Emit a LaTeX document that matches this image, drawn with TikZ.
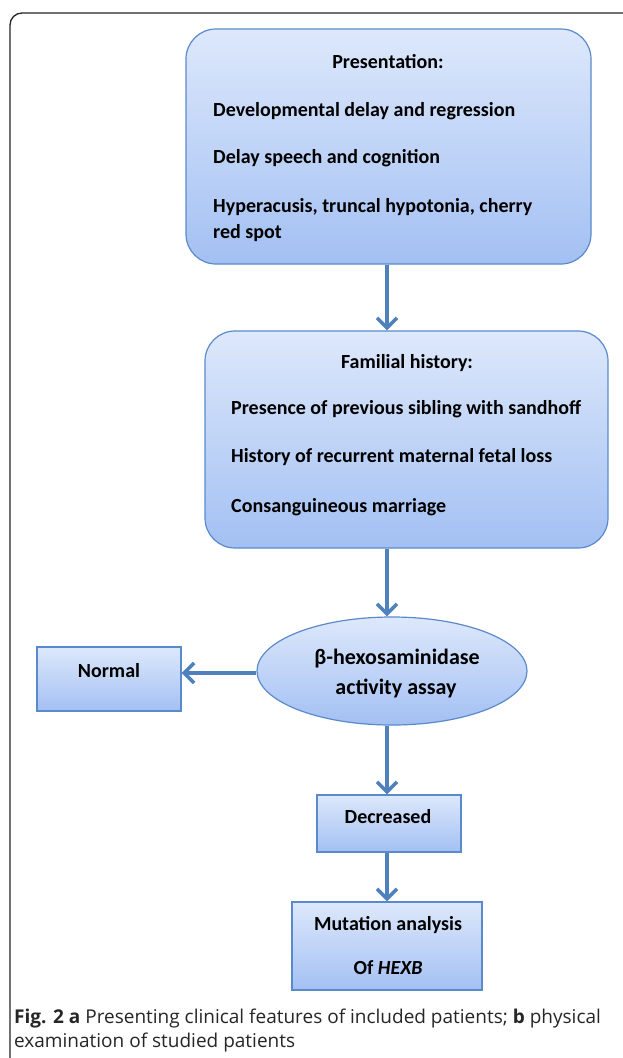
\documentclass[tikz,border=0pt]{standalone}
\usepackage{fontspec}
\setmainfont{Carlito}
\newfontfamily\capfont{Open Sans}
\usetikzlibrary{arrows.meta,shapes.geometric,shadings}
\definecolor{boxtop}{HTML}{DDE8FB}
\definecolor{boxbot}{HTML}{A3C0F3}
\definecolor{boxedge}{HTML}{5A8ACB}
\definecolor{arrowc}{HTML}{4F81BD}
\tikzset{
  panel/.style={draw=boxedge, line width=1.2pt, top color=boxtop, bottom color=boxbot, inner sep=0pt},
  roundbox/.style={panel, rounded corners=30pt},
  sqbox/.style={panel},
  txt/.style={font=\fontsize{20}{24}\selectfont\bfseries, inner sep=0pt, text=black, anchor=base},
  ltxt/.style={txt, anchor=base west},
  bigtxt/.style={font=\fontsize{22}{26}\selectfont\bfseries, inner sep=0pt, text=black, anchor=base},
  flow/.style={draw=arrowc, line width=3.5pt, -{Straight Barb[length=10pt,width=20pt]}},
  captxt/.style={font=\capfont\fontsize{19}{22}\selectfont, inner sep=0pt, anchor=base west, text=black!85}
}
\begin{document}
\begin{tikzpicture}[x=1pt,y=-1pt]
\useasboundingbox[fill=white] (0,0) rectangle (622,1058);
% frame
\draw[line width=1.3pt, black!85, rounded corners=12pt] (10,1060) -- (10,13) -- (624,13);
% boxes
\node[roundbox, minimum width=405pt, minimum height=235pt] (pres) at (388.5,146.5) {};
\node[roundbox, minimum width=403pt, minimum height=217pt] (fam) at (406.5,439.5) {};
\node[panel, ellipse, minimum width=270pt, minimum height=108pt] (assay) at (392,671) {};
\node[sqbox, minimum width=144pt, minimum height=64pt] (normal) at (109,679) {};
\node[sqbox, minimum width=144pt, minimum height=57pt] (dec) at (389,823.5) {};
\node[sqbox, minimum width=190pt, minimum height=88pt] (mut) at (387,946) {};
% texts
\node[txt] (t1) at (388,68) {Presentation:};
\node[ltxt] (t2) at (213,116) {Developmental delay and regression};
\node[ltxt] (t3) at (213,163) {Delay speech and cognition};
\node[ltxt] (t4) at (213,212) {Hyperacusis, truncal hypotonia, cherry};
\node[ltxt] (t5) at (213,238) {red spot};
\node[txt] (f1) at (407,368) {Familial history:};
\node[ltxt] (f2) at (231,414) {Presence of previous sibling with sandhoff};
\node[ltxt] (f3) at (231,462) {History of recurrent maternal fetal loss};
\node[ltxt] (f4) at (231,512) {Consanguineous marriage};
\node[bigtxt] (a1) at (397,664) {β-hexosaminidase};
\node[bigtxt] (a2) at (396,694) {activity assay};
\node[txt] (n1) at (109,677) {Normal};
\node[txt] (d1) at (388,823) {Decreased};
\node[txt] (m1) at (388,930) {Mutation analysis};
\node[txt] (m2) at (388,974) {Of \textit{HEXB}};
% connectors
\draw[flow] (pres.south -| 387,0) -- (fam.north -| 387,0);
\draw[flow] (fam.south -| 387,0) -- (assay.north -| 387,0);
\draw[flow] (assay.west |- 0,673) -- (normal.east |- 0,673);
\draw[flow] (assay.south -| 387,0) -- (dec.north -| 387,0);
\draw[flow] (dec.south -| 387,0) -- (mut.north -| 387,0);
% caption
\node[captxt] (c1) at (14,1023) {\textbf{Fig. 2 a} Presenting clinical features of included patients; \textbf{b} physical};
\node[captxt] (c2) at (14,1047) {examination of studied patients};
\end{tikzpicture}
\end{document}
